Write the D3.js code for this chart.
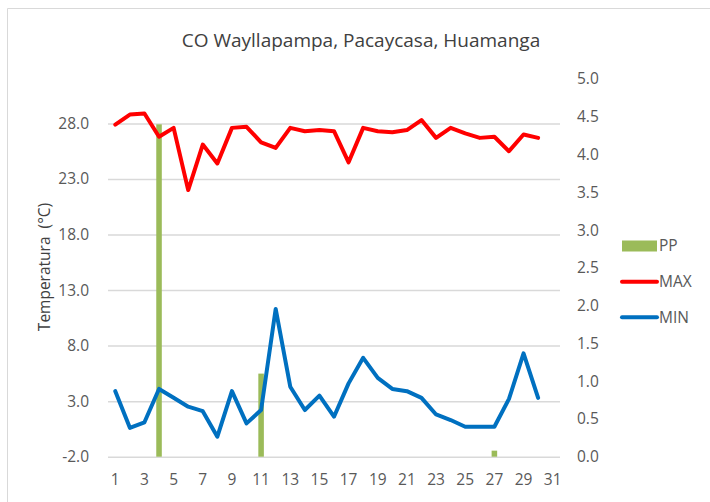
<!DOCTYPE html>
<html>
<head>
<meta charset="utf-8">
<script src="https://cdn.jsdelivr.net/npm/d3@7/dist/d3.min.js"></script>
<style>
  body { margin: 0; background: #fff; }
  text { font-family: "Open Sans", sans-serif; fill: #595959; }
</style>
</head>
<body>
<script>
// days of the month (categories)
const days = [1, 2, 3, 4, 5, 6, 7, 8, 9, 10, 11, 12, 13, 14, 15, 16, 17, 18, 19, 20,
              21, 22, 23, 24, 25, 26, 27, 28, 29, 30, 31];

// daily values (30 days measured)
const tmax = [27.9, 28.8, 28.9, 26.8, 27.6, 22.0, 26.1, 24.4, 27.6, 27.7,
              26.3, 25.8, 27.6, 27.3, 27.4, 27.3, 24.5, 27.6, 27.3, 27.2,
              27.4, 28.3, 26.7, 27.6, 27.1, 26.7, 26.8, 25.5, 27.0, 26.7];
const tmin = [3.9, 0.6, 1.1, 4.1, 3.3, 2.5, 2.1, -0.2, 3.9, 1.0,
              2.2, 11.3, 4.3, 2.2, 3.5, 1.6, 4.6, 6.9, 5.1, 4.1,
              3.9, 3.3, 1.8, 1.3, 0.7, 0.7, 0.7, 3.2, 7.3, 3.3];
const pp   = [0, 0, 0, 4.4, 0, 0, 0, 0, 0, 0,
              1.1, 0, 0, 0, 0, 0, 0, 0, 0, 0,
              0, 0, 0, 0, 0, 0, 0.08, 0, 0, 0];

const leftTicks  = [-2, 3, 8, 13, 18, 23, 28];
const rightTicks = [0, 0.5, 1, 1.5, 2, 2.5, 3, 3.5, 4, 4.5, 5];
const xTicks = [1, 3, 5, 7, 9, 11, 13, 15, 17, 19, 21, 23, 25, 27, 29, 31];

const width = 710, height = 502;
const plot = {left: 108, right: 560, top: 79, bottom: 456.7};

const svg = d3.select("body").append("svg")
  .attr("width", width).attr("height", height);

// chart frame (only left and top edges are visible in the picture)
svg.append("path")
  .attr("d", "M7.5," + height + "V8.5H" + width)
  .attr("fill", "none").attr("stroke", "#d9d9d9").attr("stroke-width", 1);

const x = d3.scaleBand().domain(days)
  .range([plot.left, plot.right])
  .paddingInner(0.62).paddingOuter(0.31);
const yL = d3.scaleLinear().domain([-2, 32]).range([plot.bottom, plot.top]);
const yR = d3.scaleLinear().domain([0, 5]).range([plot.bottom, plot.top]);

// gridlines
svg.append("g")
  .attr("transform", "translate(" + plot.left + ",0)")
  .call(d3.axisLeft(yL).tickValues(leftTicks).tickSize(-(plot.right - plot.left)).tickFormat(""))
  .call(g => g.select(".domain").remove())
  .call(g => g.selectAll("line").attr("stroke", "#d9d9d9").attr("stroke-width", 1.5));

// left axis
svg.append("g")
  .attr("transform", "translate(" + (plot.left - 16) + ",0)")
  .call(d3.axisLeft(yL).tickValues(leftTicks).tickSize(0).tickFormat(d => d.toFixed(1)))
  .call(g => g.select(".domain").remove())
  .call(g => g.selectAll("text").attr("font-size", 15.5).style("font-family", "'Open Sans', sans-serif").attr("fill", "#595959"));

// right axis
svg.append("g")
  .attr("transform", "translate(" + (plot.right + 17) + ",0)")
  .call(d3.axisRight(yR).tickValues(rightTicks).tickSize(0).tickFormat(d => d.toFixed(1)))
  .call(g => g.select(".domain").remove())
  .call(g => g.selectAll("text").attr("x", 0).attr("font-size", 15.5).style("font-family", "'Open Sans', sans-serif").attr("fill", "#595959"));

// bottom axis
svg.append("g")
  .attr("transform", "translate(0," + (plot.bottom + 14) + ")")
  .call(d3.axisBottom(x).tickValues(xTicks).tickSize(0))
  .call(g => g.select(".domain").remove())
  .call(g => g.selectAll("text").attr("font-size", 15.5).style("font-family", "'Open Sans', sans-serif").attr("fill", "#595959"));

// PP bars (right axis)
svg.append("g").selectAll("rect")
  .data(pp.map((v, i) => ({day: days[i], v: v})).filter(d => d.v > 0))
  .enter().append("rect")
  .attr("x", d => x(d.day))
  .attr("y", d => yR(d.v))
  .attr("width", x.bandwidth())
  .attr("height", d => yR(0) - yR(d.v))
  .attr("fill", "#9bbb59");

const line = d3.line()
  .x(d => x(d.day) + x.bandwidth() / 2)
  .y(d => yL(d.v));

svg.append("path")
  .datum(tmax.map((v, i) => ({day: days[i], v: v})))
  .attr("d", line)
  .attr("fill", "none").attr("stroke", "#ff0000").attr("stroke-width", 4)
  .attr("stroke-linejoin", "round").attr("stroke-linecap", "round");

svg.append("path")
  .datum(tmin.map((v, i) => ({day: days[i], v: v})))
  .attr("d", line)
  .attr("fill", "none").attr("stroke", "#0070c0").attr("stroke-width", 4)
  .attr("stroke-linejoin", "round").attr("stroke-linecap", "round");

// title
svg.append("text")
  .attr("x", 361).attr("y", 47)
  .attr("text-anchor", "middle")
  .attr("font-size", 19)
  .attr("fill", "#404040").style("fill", "#404040")
  .text("CO Wayllapampa, Pacaycasa, Huamanga");

// y axis title
svg.append("text")
  .attr("transform", "translate(50,267) rotate(-90)")
  .attr("text-anchor", "middle")
  .attr("font-size", 15.5)
  .style("fill", "#404040")
  .text("Temperatura\u00a0 (°C)");

// legend
const legend = svg.append("g").attr("transform", "translate(622,0)");
legend.append("rect")
  .attr("x", 0).attr("y", 240.5).attr("width", 35).attr("height", 11)
  .attr("fill", "#9bbb59");
legend.append("line")
  .attr("x1", 0).attr("x2", 35).attr("y1", 281.7).attr("y2", 281.7)
  .attr("stroke", "#ff0000").attr("stroke-width", 4).attr("stroke-linecap", "round");
legend.append("line")
  .attr("x1", 0).attr("x2", 35).attr("y1", 317.3).attr("y2", 317.3)
  .attr("stroke", "#0070c0").attr("stroke-width", 4).attr("stroke-linecap", "round");
const labels = ["PP", "MAX", "MIN"];
const labelY = [246, 281.7, 317.3];
legend.selectAll("text.lab")
  .data(labels).enter().append("text")
  .attr("class", "lab")
  .attr("x", 37).attr("y", (d, i) => labelY[i])
  .attr("dy", "0.35em")
  .attr("font-size", 15.5)
  .text(d => d);
</script>
</body>
</html>
